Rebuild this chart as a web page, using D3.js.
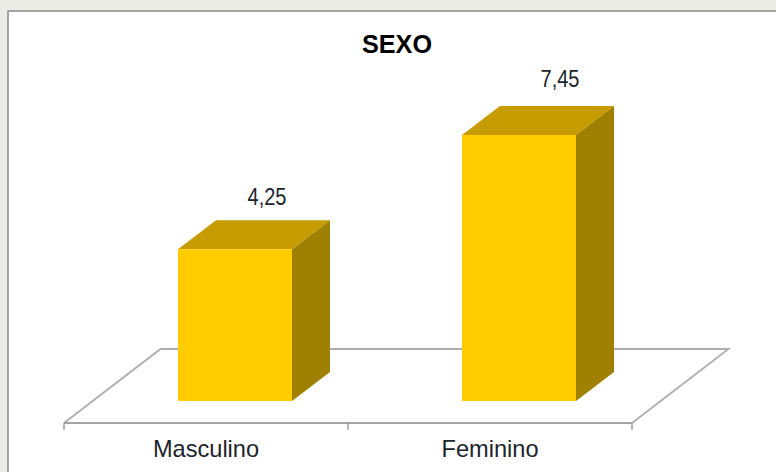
<!DOCTYPE html>
<html><head><meta charset="utf-8">
<script src="https://cdn.jsdelivr.net/npm/d3@7"></script>
<style>html,body{margin:0;padding:0;background:#ecece6}svg{display:block}</style>
</head><body><svg id="c" width="776" height="472"></svg>
<script>
const categories = ["Masculino", "Feminino"];
const values = [4.25, 7.45];
const chartTitle = "SEXO";
const fmt = v => String(v).replace(".", ",");

const svg = d3.select("#c");
const font = "'Liberation Sans', Arial, sans-serif";
const ink = "#20242c";
svg.append("rect").attr("width",776).attr("height",472).attr("fill","#ecece6");
svg.append("rect").attr("x",8).attr("y",11).attr("width",790).attr("height",480)
  .attr("fill","#fff").attr("stroke","#8f8f8f").attr("stroke-width",1.6);

const x = d3.scaleBand().domain(categories).range([64,632]);
const baseY = 423;
const y = d3.scaleLinear().domain([0,7.45]).range([401,135]);
const floorDx = 96.5, floorDy = -74;
const barW = 114, barDx = 38, barDy = -29;

// floor
const g = svg.append("g");
const fl = [[64,baseY],[64+floorDx,baseY+floorDy],[632+floorDx,baseY+floorDy],[632,baseY]];
g.append("path").attr("d",d3.line()(fl)).attr("fill","none").attr("stroke","#aeaeae").attr("stroke-width",1.8);
g.append("line").attr("x1",64).attr("x2",632).attr("y1",baseY).attr("y2",baseY).attr("stroke","#a4a4a4").attr("stroke-width",2.2);

// axis
const axis = d3.axisBottom(x).tickSize(0).tickPadding(17);
const ax = svg.append("g").attr("transform",`translate(0,${baseY})`).call(axis);
ax.select(".domain").remove();
ax.selectAll("text").attr("font-family",font).attr("font-size",23.6).attr("fill",ink);
[64,348,632].forEach(t=>svg.append("line").attr("x1",t).attr("x2",t).attr("y1",baseY).attr("y2",baseY+7).attr("stroke","#8a8a8a").attr("stroke-width",1.2));

// label drift follows the value (the 3D projection shifts taller bars' labels)
const labelDx = d3.scaleLinear().domain(values).range([89,98]);
const labelDy = d3.scaleLinear().domain(values).range([44,48]);

// bars
const bars = svg.selectAll(".b").data(categories).join("g");
bars.each(function(c,i){
  const s = d3.select(this);
  const x0 = x(c)+x.bandwidth()/2+29-barW/2, x1 = x0+barW, t = y(values[i]), b = y(0);
  s.append("path").attr("fill","#c69c00").attr("d",d3.line()([[x0,t],[x0+barDx,t+barDy],[x1+barDx,t+barDy],[x1,t]]));
  s.append("path").attr("fill","#a08000").attr("d",d3.line()([[x1,t],[x1+barDx,t+barDy],[x1+barDx,b+barDy],[x1,b]]));
  s.append("rect").attr("x",x0).attr("y",t).attr("width",barW).attr("height",b-t).attr("fill","#ffcc00");
  const lab = s.append("text").attr("x",x0+labelDx(values[i])).attr("y",t-labelDy(values[i])).attr("text-anchor","middle")
    .attr("font-family",font).attr("font-size",23).attr("fill",ink).text(fmt(values[i]));
  lab.attr("textLength",lab.node().getComputedTextLength()*0.87).attr("lengthAdjust","spacingAndGlyphs");
});

const tt = svg.append("text").attr("x",397).attr("y",52.5).attr("text-anchor","middle")
  .attr("font-family",font).attr("font-size",26).attr("font-weight","bold").attr("fill","#000").text(chartTitle);
tt.attr("textLength",tt.node().getComputedTextLength()*0.97).attr("lengthAdjust","spacingAndGlyphs");
</script></body></html>
